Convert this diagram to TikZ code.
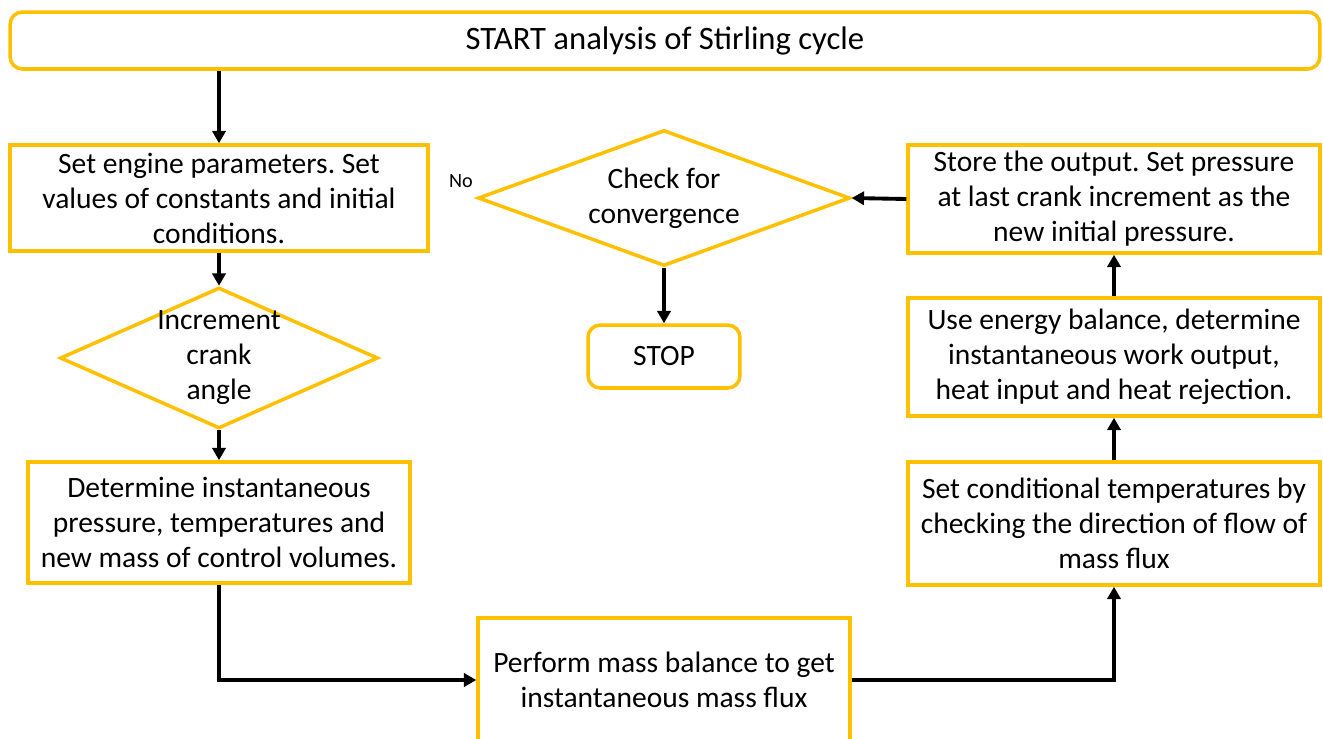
\documentclass[tikz,border=0pt]{standalone}
\usepackage{fontspec}
\setmainfont{Carlito}
\usepackage{tikz}
\usetikzlibrary{shapes.geometric, arrows.meta, positioning}
\frenchspacing
\definecolor{flowyellow}{HTML}{FFC000}
\definecolor{flowblack}{HTML}{000000}
\tikzset{
  startstop/.style={
    rectangle, rounded corners=7pt,
    text centered, draw=flowyellow, line width=2pt,
    fill=white, font=\fontsize{16.8}{19.9}\selectfont,
  },
  process/.style={
    rectangle, align=center,
    draw=flowyellow, line width=2pt,
    fill=white, font=\fontsize{16.8}{19.9}\selectfont,
  },
  decision/.style={
    diamond, aspect=2.3, align=center, inner sep=-10pt,
    draw=flowyellow, line width=2pt,
    fill=white, font=\fontsize{16.8}{19.9}\selectfont,
  },
  arrow/.style={-{Triangle[length=7pt, width=7.5pt]}, line width=2.2pt, color=flowblack},
}

\begin{document}
\begin{tikzpicture}[x=0.02cm, y=-0.02cm]

  \useasboundingbox (0,0) rectangle (1323,738);
  \clip (0,0) rectangle (1323,738);

  % Start
  \node[startstop, minimum width=26.2cm, minimum height=1.14cm, font=\fontsize{18.6}{22}\selectfont] (start) at (665,40.5)
    {START analysis of Stirling cycle};

  % Left column
  \node[process, minimum width=8.36cm, minimum height=2.12cm] (setparam) at (219,198)
    {Set engine parameters. Set\\ values of constants and initial\\ conditions.};
  \node[decision, minimum width=6.36cm, minimum height=2.82cm] (incr) at (219,358)
    {Increment\\ crank\\ angle};
  \node[process, minimum width=7.64cm, minimum height=2.42cm] (determine) at (219,522.5)
    {Determine instantaneous\\ pressure, temperatures and\\ new mass of control volumes.};

  % Bottom
  \node[process, minimum width=7.44cm, minimum height=2.48cm] (massbal) at (664,680)
    {Perform mass balance to get\\ instantaneous mass flux};

  % Right column
  \node[process, minimum width=8.24cm, minimum height=2.46cm] (setcond) at (1114,523.5)
    {Set conditional temperatures by\\ checking the direction of flow of\\ mass flux};
  \node[process, minimum width=8.24cm, minimum height=2.36cm] (energy) at (1114,357)
    {Use energy balance, determine\\ instantaneous work output,\\ heat input and heat rejection.};
  \node[process, minimum width=8.24cm, minimum height=2.16cm] (store) at (1114,199)
    {Store the output. Set pressure\\ at last crank increment as the\\ new initial pressure.};

  % Middle
  \node[decision, minimum width=7.44cm, minimum height=2.72cm] (check) at (664,198)
    {Check for\\ convergence};
  \node[startstop, minimum width=3.04cm, minimum height=1.26cm] (stop) at (664,356.5) {STOP};
  \node[font=\fontsize{11.5}{13}\selectfont] (nolabel) at (461,181) {No};

  % Arrows
  \draw[arrow] (start.south -| setparam.north) -- (setparam.north);
  \draw[arrow] (setparam.south) -- (incr.north);
  \draw[arrow] (incr.south) -- (determine.north);
  \draw[arrow] (determine.south) |- (massbal.west);
  \draw[arrow] (massbal.east) -| (setcond.south);
  \draw[arrow] (setcond.north) -- (energy.south);
  \draw[arrow] (energy.north) -- (store.south);
  \draw[arrow] (store.west) -- (check.east);
  \draw[arrow] (check.south) -- (stop.north);

\end{tikzpicture}
\end{document}
